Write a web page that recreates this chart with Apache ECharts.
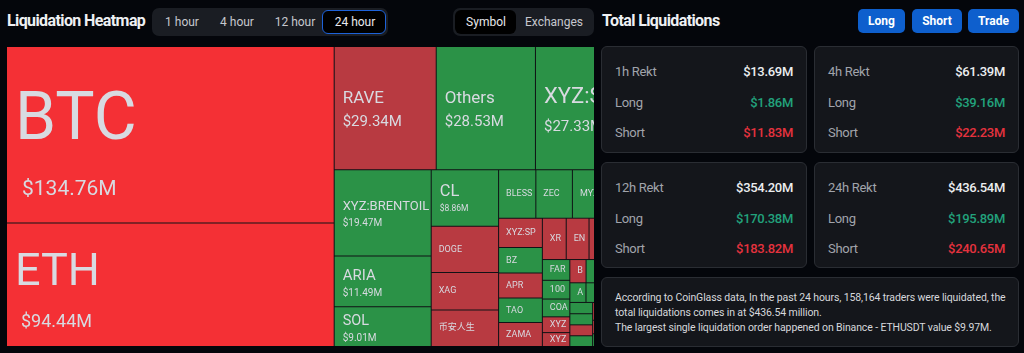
<!DOCTYPE html>
<html>
<head>
<meta charset="utf-8">
<script src="https://cdn.jsdelivr.net/npm/echarts@6.0.0/dist/echarts.min.js"></script>
<style>
*{box-sizing:border-box}
html,body{margin:0;padding:0;width:1024px;height:353px;overflow:hidden;background:#04060b;font-family:Roboto,"Noto Sans","Noto Sans CJK SC",sans-serif;}
.h{position:absolute;font-weight:700;font-size:16px;color:#eef0f3;letter-spacing:-0.6px;line-height:20px;white-space:nowrap}
.seg{position:absolute;top:8px;height:28px;background:#1a1d23;border-radius:7px}
.seg .on1{position:absolute;top:2px;height:24px;background:#000;border:1.5px solid #1d62d8;border-radius:6px}
.seg .on2{position:absolute;top:2px;height:24px;background:#000;border-radius:6px}
.seg .b{position:absolute;top:0;height:28px;line-height:28px;font-size:12px;color:#c6c8ce;text-align:center;white-space:nowrap;transform:translateX(-50%)}
#clip{position:absolute;left:7px;top:47px;width:587px;height:300px;overflow:hidden}
#chart{position:absolute;left:0;top:0;width:623px;height:299px}
.btn{position:absolute;top:9px;height:24px;line-height:24px;background:#0e5fcd;border-radius:5px;color:#fff;font-weight:700;font-size:12px;text-align:center}
.card{position:absolute;background:#14161b;border:1px solid #2a2d33;border-radius:6px}
.row{position:absolute;left:13px;right:13px;height:16px;line-height:16px;font-size:13px;letter-spacing:-0.3px;white-space:nowrap}
.row .l{position:absolute;left:0;color:#a1a4ab}
.row .r{position:absolute;right:0;font-weight:500}
.note{position:absolute;left:601px;top:277px;width:418px;height:70px;padding:12px 0 0 13px;font-size:10.5px;line-height:15px;color:#d6d8dc;letter-spacing:-0.12px;white-space:nowrap}
</style>
</head>
<body>
<div class="h" style="left:7px;top:11px">Liquidation Heatmap</div>
<div class="seg" style="left:152px;width:236px">
  <div class="on1" style="left:170px;width:64px"></div>
  <div class="b" style="left:30px">1 hour</div>
  <div class="b" style="left:85px">4 hour</div>
  <div class="b" style="left:143px">12 hour</div>
  <div class="b" style="left:203px;color:#e8e9ec">24 hour</div>
</div>
<div class="seg" style="left:453px;width:141px">
  <div class="on2" style="left:2px;width:61px"></div>
  <div class="b" style="left:33px;color:#e8e9ec">Symbol</div>
  <div class="b" style="left:101px">Exchanges</div>
</div>
<div id="clip"><div id="chart"></div></div>

<div class="h" style="left:602px;top:11px">Total Liquidations</div>
<div class="btn" style="left:858px;width:47px">Long</div>
<div class="btn" style="left:912px;width:50px">Short</div>
<div class="btn" style="left:968px;width:51px">Trade</div>
<div id="cards"></div>
<div class="note" id="note"></div>

<script>
// ---------------- data ----------------
const symbols = ['BTC','ETH','RAVE','Others','XYZ:SILVER','XYZ:BRENTOIL','ARIA','SOL','CL',
  'DOGE','XAG','币安人生','BLESS','ZEC','MYX','HYPE','XYZ:SP500','BZ','APR','TAO','ZAMA',
  'XRP','ENJ','SUI','LINK','FARTCOIN','1000PEPE','COAI','XYZ:GOLD','XYZ:XYZ100',
  'BIO','PUMP','ENA','WLD','AVAX','FET','ADA','BNB','LTC','FIL','EDEN','LAB',
  'AAVE','TRUMP','PENGU','ONDO','TIA','NEAR','ARB','OP','APT'];
const liqValues = [134.76,94.44,29.34,28.53,27.33,19.47,11.49,9.01,8.86,
  7.28,5.86,5.75,4.20,4.12,3.40,3.15,3.00,2.60,2.55,2.50,2.45,
  2.30,2.20,2.05,1.95,1.33,1.20,1.14,1.01,0.89,
  0.88,0.84,0.80,0.77,0.74,0.71,0.68,0.65,0.60,0.59,0.58,0.57,
  0.55,0.52,0.50,0.48,0.45,0.42,0.40,0.35,0.22];
// 2 = strong red, 1 = red, 0 = green
const tone = [2,2,1,0,0,0,0,0,0,
  1,1,1,0,0,0,0,1,0,1,0,1,
  1,1,1,0,0,0,0,1,1,
  1,0,0,0,0,0,0,0,0,0,1,0,
  1,0,0,1,0,0,1,0,0];

const periods = ['1h','4h','12h','24h'];
const rektTotal = [13.69,61.39,354.20,436.54];
const rektLong = [1.86,39.16,170.38,195.89];
const rektShort = [11.83,22.23,183.82,240.65];

const noteLines = [
  'According to CoinGlass data, In the past 24 hours, 158,164 traders were liquidated, the',
  'total liquidations comes in at $436.54 million.',
  'The largest single liquidation order happened on Binance - ETHUSDT value $9.97M.'
];

// ---------------- styles ----------------
const toneColor = {2:'#f43035',1:'#b83a41',0:'#2b9247'};
const labelSpec = {
  'BTC':          {n:[66,111], v:[21,25], vp:7, pl:8},
  'ETH':          {n:[45,76],  v:[18,22], vp:6, pl:8},
  'RAVE':         {n:[17,29],  v:[15,19], pl:8},
  'Others':       {n:[17,29],  v:[15,19], pl:8},
  'XYZ:SILVER':   {n:[22,38],  v:[15,21], pl:8},
  'XYZ:BRENTOIL': {n:[13,21],  v:[10,12], pl:8},
  'ARIA':         {n:[15,24],  v:[10,11], pl:8},
  'SOL':          {n:[14.5,24],v:[10,11], pl:8},
  'CL':           {n:[16.5,22],v:[8.5,13], pl:8}
};
const defSpec = {n:[9,12], pl:7};
const fmtM = v => '$' + v.toFixed(2) + 'M';

function buildData(heights) {
  return symbols.map((name, i) => {
    const s = labelSpec[name] || defSpec;
    const rich = {
      n: {fontSize: s.n[0], lineHeight: s.n[1], color: '#d8dae1', fontFamily: 'Roboto, "Noto Sans CJK SC", sans-serif'}
    };
    let text = '{n|' + name + '}';
    let bh = s.n[1];
    if (s.v) {
      rich.v = {fontSize: s.v[0], lineHeight: s.v[1], color: '#d8dae1', padding: [0,0,0,s.vp||0], fontFamily: 'Roboto, sans-serif'};
      text += '\n{v|' + fmtM(liqValues[i]) + '}';
      bh += s.v[1];
    }
    const h = heights && heights[name];
    const padTop = h ? Math.max(0, (h - bh) / 2) : 0;
    return {
      name, value: liqValues[i],
      itemStyle: {color: toneColor[tone[i]]},
      label: {formatter: text, rich, padding: [padTop, 0, 0, s.pl]}
    };
  });
}

const chart = echarts.init(document.getElementById('chart'), null, {renderer: 'canvas'});
chart.setOption({
  animation: false,
  backgroundColor: 'transparent',
  series: [{
    type: 'treemap',
    left: 0, top: 0, width: '100%', height: '100%',
    roam: false, nodeClick: false, silent: true,
    breadcrumb: {show: false},
    sort: 'desc',
    visibleMin: 0,
    itemStyle: {borderWidth: 0, gapWidth: 1, borderColor: '#101216'},
    label: {show: true, position: 'insideLeft', distance: 0, padding: [0,0,0,8], overflow: 'truncate', ellipsis: ''},
    upperLabel: {show: false},
    emphasis: {disabled: true},
    data: buildData(null)
  }]
});

// second pass: centre each label block vertically inside its cell
try {
  const data = chart.getModel().getSeriesByIndex(0).getData();
  const heights = {};
  data.tree.root.children.forEach(nd => {
    const l = nd.getLayout();
    if (l) heights[nd.name] = l.height;
  });
  chart.setOption({series: [{data: buildData(heights)}]});
} catch (e) { console.log(e); }

// ---------------- right panel ----------------
const cardPos = [[601,46,206,107],[814,46,205,107],[601,162,206,106],[814,162,205,106]];
const cards = document.getElementById('cards');
periods.forEach((p, i) => {
  const [x,y,w,h] = cardPos[i];
  const c = document.createElement('div');
  c.className = 'card';
  c.style.cssText = `left:${x}px;top:${y}px;width:${w}px;height:${h}px`;
  c.innerHTML =
    `<div class="row" style="top:17px"><span class="l">${p} Rekt</span><span class="r" style="color:#eceef0">${fmtM(rektTotal[i])}</span></div>` +
    `<div class="row" style="top:48px"><span class="l">Long</span><span class="r" style="color:#22a27c">${fmtM(rektLong[i])}</span></div>` +
    `<div class="row" style="top:78px"><span class="l">Short</span><span class="r" style="color:#e5323e">${fmtM(rektShort[i])}</span></div>`;
  cards.appendChild(c);
});
const note = document.getElementById('note');
note.className = 'note card';
note.innerHTML = noteLines.join('<br>');
</script>
</body>
</html>
